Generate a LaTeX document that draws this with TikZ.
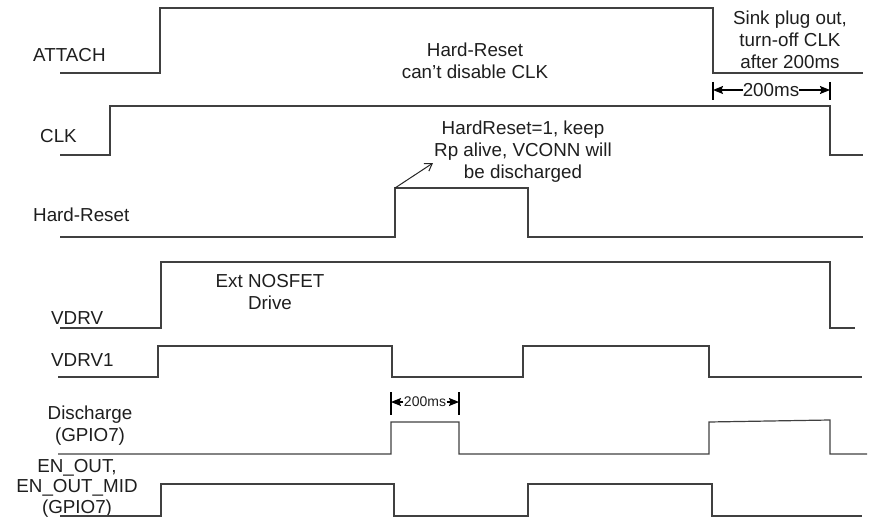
\documentclass[tikz,border=0pt]{standalone}
\usepackage{fontspec}
\setmainfont{Liberation Sans}
\usetikzlibrary{arrows.meta, positioning, calc}
\definecolor{WaveGray}{RGB}{64, 64, 64}
\definecolor{TextGray}{RGB}{30, 30, 30}

\begin{document}
\begin{tikzpicture}[x=1pt, y=-1pt,
    wave/.style={draw=WaveGray, line width=1.2pt},
    signal/.style={anchor=west, text=TextGray, font=\fontsize{18.8}{21}\selectfont, inner sep=0pt},
    note/.style={align=center, text=TextGray, font=\fontsize{18.8}{22}\selectfont, inner sep=0pt},
    small/.style={text=TextGray, font=\fontsize{14}{15}\selectfont, inner sep=0.5pt},
    bar/.style={draw=black, line width=1.8pt},
    dim/.style={draw=black, line width=1.1pt, -{Stealth[length=10pt, width=8pt, inset=1.5pt]}},
    callout/.style={draw=black!85, line width=1pt, -{Straight Barb[length=7pt, width=9pt]}}
]
    \useasboundingbox (0,0) rectangle (871,519);

    \node[signal] (attach) at (33,55) {ATTACH};
    \node[signal] (clk) at (40,136) {CLK};
    \node[signal] (hardreset) at (33,215) {Hard-Reset};
    \node[signal] (vdrv) at (51,318) {VDRV};
    \node[signal] (vdrvone) at (51,360) {VDRV1};
    \node[note] (discharge) at (90,426) {Discharge\\(GPIO7)};
    \node[note, font=\fontsize{18.8}{20.5}\selectfont] (enout) at (77,488) {EN\_OUT,\\EN\_OUT\_MID\\(GPIO7)};

    \draw[wave] (60,73) -| (160,8) -| (713,73) -- (863,73);
    \draw[wave] (60,155) -| (110,106) -| (830,155) -- (863,155);
    \draw[wave] (60,237) -| (395,188) -| (528,237) -- (863,237);
    \draw[wave] (60,328) -| (161,262) -| (830,328) -- (855,328);
    \draw[wave] (58,377) -| (158,346) -| (392,377) -| (523,346) -| (709,377) -- (862,377);
    \draw[wave] (58,454) -| (391,422) -| (459,454) -| (709,422) -- (830,420) -- (830,454) -- (867,454);
    \draw[wave] (60,516) -| (161,484) -| (394,516) -| (528,484) -| (712,516) -- (862,516);

    \node[note] (hrnote) at (475,61) {Hard-Reset\\can't disable CLK};
    \node[note] (sinknote) at (790,40) {Sink plug out,\\turn-off CLK\\after 200ms};
    \node[note] (keepnote) at (523,152) {HardReset=1, keep\\Rp alive, VCONN will\\be discharged};
    \node[note] (extnote) at (270,292) {Ext NOSFET\\Drive};

    \coordinate (hrrise) at (395,188);
    \coordinate (hrtip) at (433,163);
    \draw[callout] (hrrise) -- (hrtip);

    \coordinate (offa) at (713,90);
    \coordinate (offb) at (830,90);
    \draw[bar] (713,82) -- (713,100);
    \draw[bar] (830,82) -- (830,100);
    \node[note] (offtime) at (771,90) {200ms};
    \draw[dim] (offtime.west) -- (offa);
    \draw[dim] (offtime.east) -- (offb);

    \coordinate (disa) at (391,402);
    \coordinate (disb) at (459,402);
    \draw[bar] (391,392) -- (391,415);
    \draw[bar] (459,392) -- (459,415);
    \node[small] (distime) at (425,402) {200ms};
    \draw[dim] (distime.west) -- (disa);
    \draw[dim] (distime.east) -- (disb);
\end{tikzpicture}
\end{document}
